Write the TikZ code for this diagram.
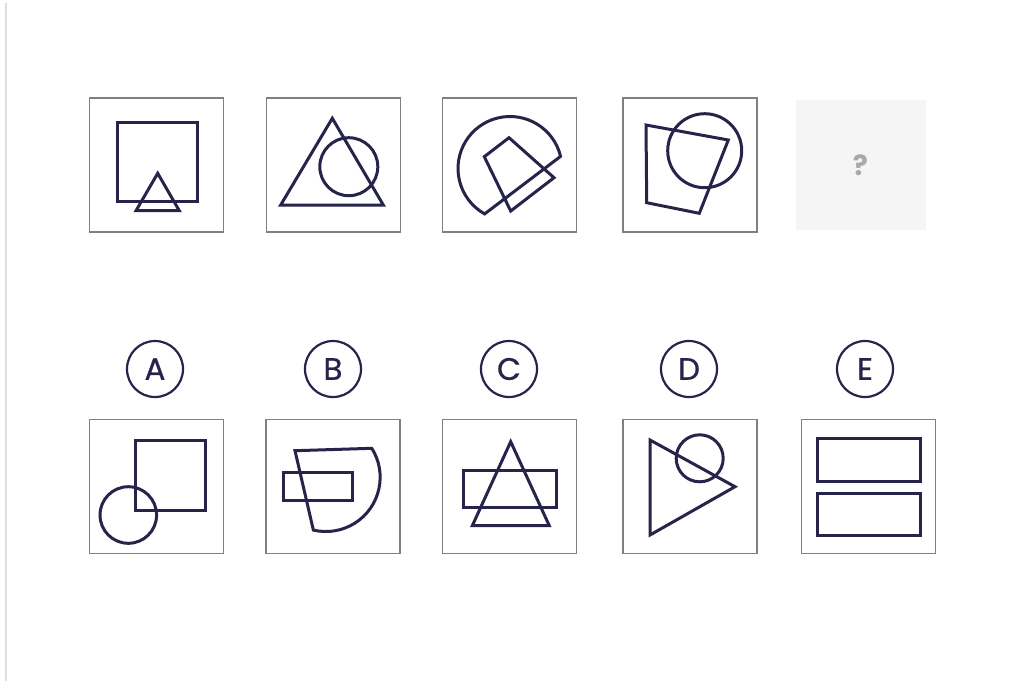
\documentclass[tikz,border=0pt]{standalone}
\usepackage{fontspec}
\setmainfont{Poppins}
\newfontfamily\lettere{Poppins}[FakeBold=0.6]
\definecolor{blunotte}{HTML}{26244B}
\definecolor{grigiobordo}{HTML}{808080}
\definecolor{grigiofondo}{HTML}{F5F5F5}
\definecolor{grigiotesto}{HTML}{A9A9A9}
\definecolor{grigiolinea}{HTML}{DEDEDE}

\begin{document}
\begin{tikzpicture}[
    x=0.5pt, y=-0.5pt,
    cornice/.style={draw=grigiobordo,line width=0.65pt,minimum size=67pt,inner sep=0pt},
    vuoto/.style={fill=grigiofondo,minimum size=65pt,inner sep=0pt,
      text=grigiotesto,font=\fontsize{14}{16}\selectfont\bfseries},
    figura/.style={draw=blunotte,line width=1.5pt,line join=miter},
    etichetta/.style={circle,draw=blunotte,line width=1.1pt,minimum size=28pt,
      inner sep=0pt,text=blunotte,font=\lettere\fontsize{15.5}{17}\selectfont}]

  \useasboundingbox (0,0) rectangle (1011,681);
  \fill[white] (0,0) rectangle (1011,681);
  \draw[grigiolinea,line width=0.8pt] (6,3) -- (6,681);

  % ---- riga superiore: la sequenza ------------------------------------------
  \node[cornice] (s1) at (156.5,165) {};
  \node[cornice] (s2) at (333.5,165) {};
  \node[cornice] (s3) at (509.5,165) {};
  \node[cornice] (s4) at (690,165)   {};
  \node[vuoto]   (s5) at (860.5,165) {?};

  % quadrato e triangolo piccolo
  \draw[figura] (117.7,122.7) rectangle (197.3,201.7);
  \draw[figura] (157.7,173.3) -- (179.3,210.7) -- (136,210.7) -- cycle;
  % triangolo e cerchio
  \draw[figura] (332.3,118.3) -- (383.3,205) -- (280.7,205) -- cycle;
  \draw[figura] (348.8,166.7) circle[radius=29];
  % settore circolare e quadrilatero
  \draw[figura] (510,168.5) ++(-13.5:52) arc[start angle=-13.5,end angle=-240.8,radius=52] -- cycle;
  \draw[figura] (509,137.7) -- (554,177.7) -- (510.7,211) -- (484.3,156.7) -- cycle;
  % trapezio e cerchio
  \draw[figura] (646,125) -- (728.3,140) -- (699.3,213.3) -- (646.7,202.7) -- cycle;
  \draw[figura] (704.7,150.7) circle[radius=37];

  % ---- riga inferiore: le risposte ------------------------------------------
  \node[etichetta] (eA) at (155,369) {A};
  \node[etichetta] (eB) at (333,369) {B};
  \node[etichetta] (eC) at (509,369) {C};
  \node[etichetta] (eD) at (689,369) {D};
  \node[etichetta] (eE) at (865,369) {E};

  \node[cornice] (rA) at (156.5,486.5) {};
  \node[cornice] (rB) at (333,486.5)   {};
  \node[cornice] (rC) at (509.5,486.5) {};
  \node[cornice] (rD) at (690,486.5)   {};
  \node[cornice] (rE) at (868.5,486.5) {};

  % A: quadrato e cerchio
  \draw[figura] (135,440) rectangle (205.7,510);
  \draw[figura] (128.3,515) circle[radius=28.3];
  % B: rettangolo e settore
  \draw[figura] (283.3,472.7) rectangle (352.7,500);
  \draw[figura] (295,450.7) -- (371.8,448.3) arc[start angle=-32.2,end angle=103.3,radius=54.3] -- cycle;
  % C: rettangolo e triangolo
  \draw[figura] (463.3,470) rectangle (556,507.7);
  \draw[figura] (510.7,441.7) -- (549.3,525.7) -- (472.3,525.7) -- cycle;
  % D: triangolo e cerchio
  \draw[figura] (650,440) -- (735,486.7) -- (650,535) -- cycle;
  \draw[figura] (699.7,458.3) circle[radius=23.5];
  % E: due rettangoli
  \draw[figura] (817.7,438.3) rectangle (920,481.7);
  \draw[figura] (817.7,493.3) rectangle (920,535);

\end{tikzpicture}
\end{document}
